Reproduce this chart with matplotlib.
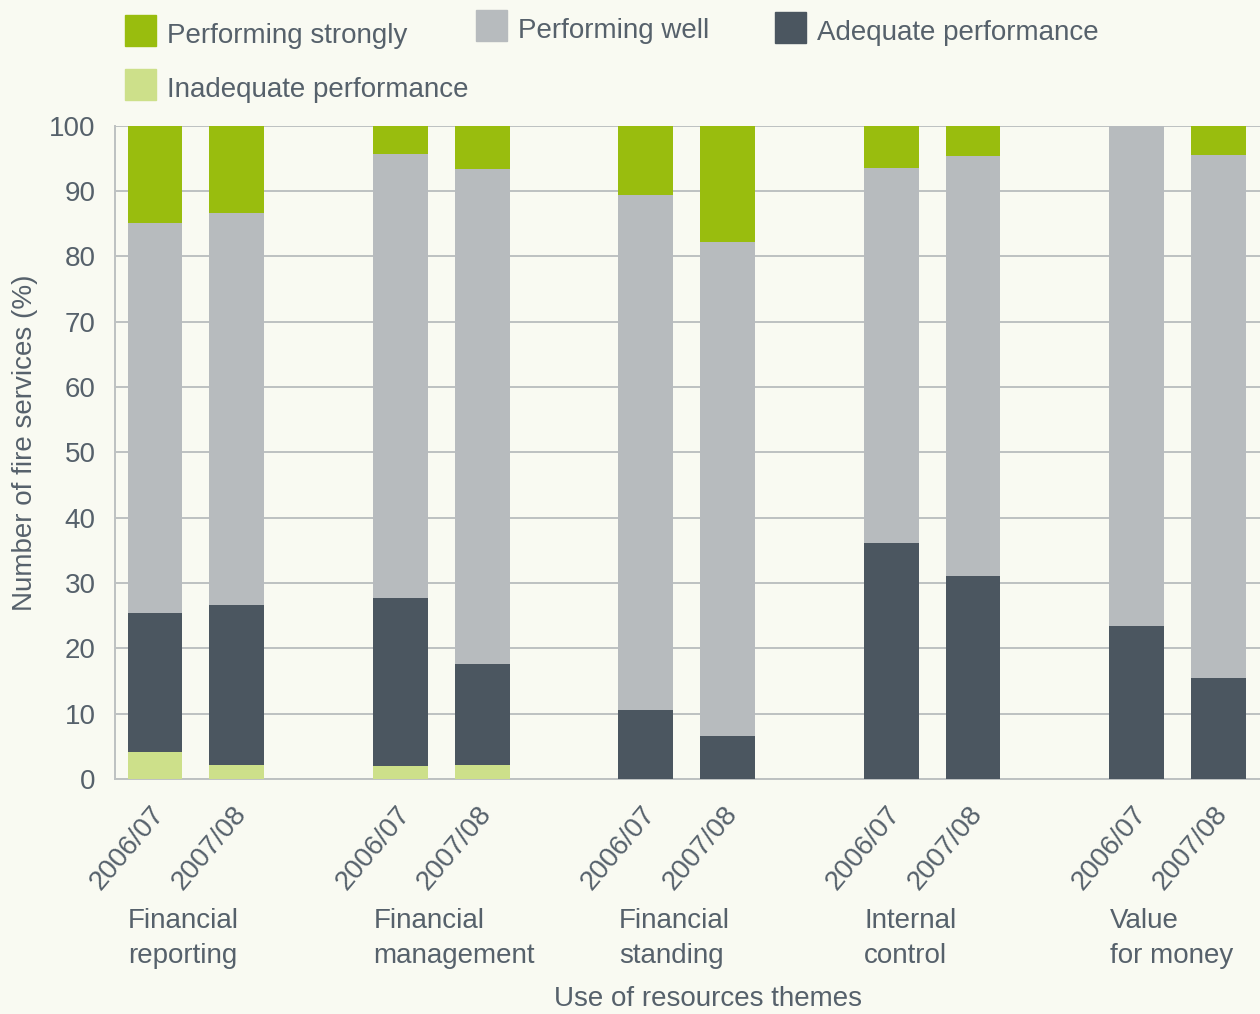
import numpy as np
import matplotlib
matplotlib.use("Agg")
from matplotlib import pyplot as plt
from matplotlib.patches import Rectangle
from matplotlib.transforms import ScaledTranslation

# data (percent of fire services)
themes = ["Financial\nreporting", "Financial\nmanagement", "Financial\nstanding",
          "Internal\ncontrol", "Value\nfor money"]
years = ["2006/07", "2007/08"]

inadequate = [4.1, 2.1, 2.0, 2.1, 0, 0, 0, 0, 0, 0]
adequate = [21.3, 24.5, 25.7, 15.5, 10.5, 6.6, 36.1, 31.0, 23.4, 15.5]
perf_well = [59.7, 60.0, 68.0, 75.7, 78.9, 75.6, 57.5, 64.4, 76.6, 80.0]
perf_strong = [14.9, 13.4, 4.3, 6.7, 10.6, 17.8, 6.4, 4.5, 0, 4.5]

labels = ["Performing strongly", "Performing well", "Adequate performance",
          "Inadequate performance"]
colours = {"strong": "#99bd0e", "well": "#b7bbbe", "adequate": "#4b5660",
           "inadequate": "#cde08a"}

bg = "#f9faf2"
txt = "#56616b"
grid_c = "#bdc1c1"
FONT = ["Liberation Sans", "DejaVu Sans"]
plt.rcParams["font.family"] = FONT

W, H = 1260, 1014
fig = plt.figure(figsize=(W / 100, H / 100), dpi=100, facecolor=bg)
ax = fig.add_axes([115 / W, 1 - 779 / H, 1 - 115 / W, (779 - 125.7) / H])
ax.set_facecolor(bg)

pos = []
for g in range(len(themes)):
    for i in range(len(years)):
        pos.append(g * 3 + i)
pos = np.array(pos)

w = 0.67
b = np.zeros(len(pos))
for vals, key in [(inadequate, "inadequate"), (adequate, "adequate"),
                  (perf_well, "well"), (perf_strong, "strong")]:
    ax.bar(pos, vals, w, bottom=b, color=colours[key], linewidth=0, zorder=3)
    b = b + np.array(vals)

ax.set_xlim(-0.49, 13.51)
ax.set_ylim(0, 100)
ax.set_yticks(np.arange(0, 101, 10))
ax.yaxis.grid(True, color=grid_c, linewidth=1.4, zorder=0)
ax.tick_params(axis="y", length=0, pad=14, labelsize=20, labelcolor=txt)

ax.set_xticks(pos)
ax.set_xticklabels(years * len(themes))
ax.tick_params(axis="x", length=0, pad=22, labelsize=20, labelcolor=txt)
shift = ScaledTranslation(5 / 100, 0, fig.dpi_scale_trans)
for lab in ax.get_xticklabels():
    lab.set_rotation(50)
    lab.set_ha("right")
    lab.set_va("center")
    lab.set_rotation_mode("anchor")
    lab.set_transform(lab.get_transform() + shift)

for s in ["top", "right"]:
    ax.spines[s].set_visible(False)
for s in ["left", "bottom"]:
    ax.spines[s].set_color(grid_c)
    ax.spines[s].set_linewidth(1.4)

# theme names under each pair of bars
for g, name in enumerate(themes):
    ax.text(g * 3 - 0.33, -0.197, name, transform=ax.get_xaxis_transform(),
            ha="left", va="top", fontsize=20, color=txt, linespacing=1.45)

fig.text(25 / W, 1 - 443 / H, "Number of fire services (%)", rotation=90,
         ha="center", va="center", fontsize=20, color=txt)
fig.text(708 / W, 1 - 999 / H, "Use of resources themes", ha="center",
         va="center", fontsize=20, color=txt)

# legend drawn by hand (entries are staggered in the original)
leg = [(125, 15, "strong", labels[0]), (476, 10, "well", labels[1]),
       (775, 12, "adequate", labels[2]), (125, 69, "inadequate", labels[3])]
for x, y, key, lab in leg:
    fig.add_artist(Rectangle((x / W, 1 - (y + 31) / H), 31 / W, 31 / H,
                             transform=fig.transFigure, color=colours[key]))
    fig.text((x + 42) / W, 1 - (y + 21) / H, lab, ha="left", va="center",
             fontsize=20, color=txt)

fig.savefig("out.png", dpi=100, facecolor=bg)
